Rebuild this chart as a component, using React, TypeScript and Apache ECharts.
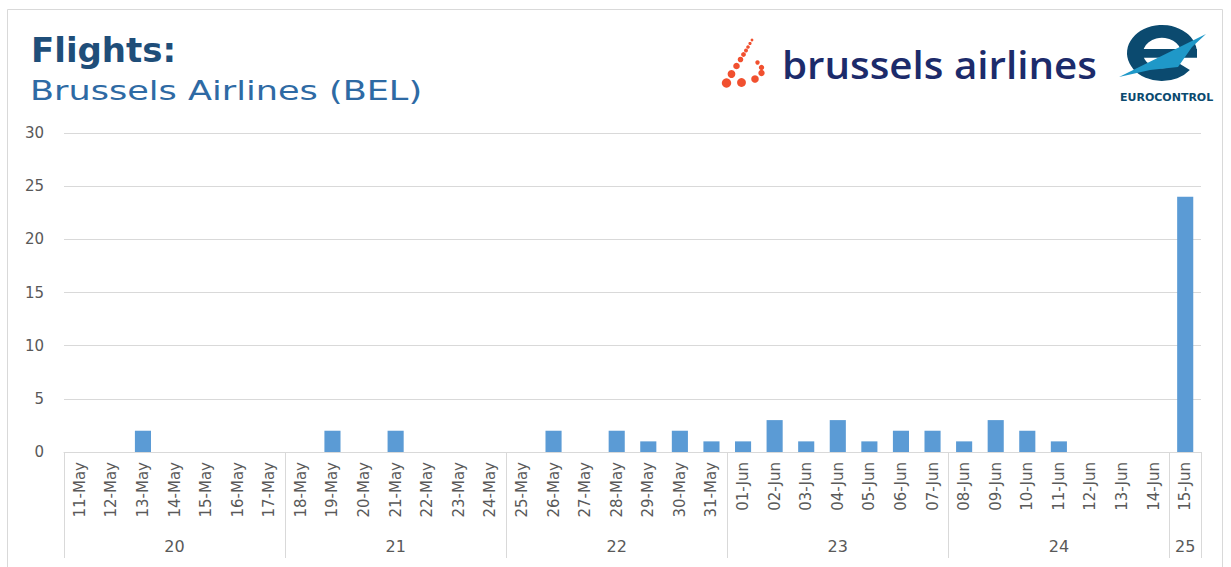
import React, { useEffect, useRef } from "react";
import * as echarts from "echarts";

const dates = [
  "11-May", "12-May", "13-May", "14-May", "15-May", "16-May", "17-May",
  "18-May", "19-May", "20-May", "21-May", "22-May", "23-May", "24-May",
  "25-May", "26-May", "27-May", "28-May", "29-May", "30-May", "31-May",
  "01-Jun", "02-Jun", "03-Jun", "04-Jun", "05-Jun", "06-Jun", "07-Jun",
  "08-Jun", "09-Jun", "10-Jun", "11-Jun", "12-Jun", "13-Jun", "14-Jun",
  "15-Jun",
];
const weeks = [
  "20", "20", "20", "20", "20", "20", "20",
  "21", "21", "21", "21", "21", "21", "21",
  "22", "22", "22", "22", "22", "22", "22",
  "23", "23", "23", "23", "23", "23", "23",
  "24", "24", "24", "24", "24", "24", "24",
  "25",
];
const flights = [
  0, 0, 2, 0, 0, 0, 0,
  0, 2, 0, 2, 0, 0, 0,
  0, 2, 0, 2, 1, 2, 1,
  1, 3, 1, 3, 1, 2, 2,
  1, 3, 2, 1, 0, 0, 0,
  24,
];
const yTicks = { min: 0, max: 30, interval: 5 };
const titleText = "Flights:";
const subtitleText = "Brussels Airlines (BEL)";

// group starts and middles derived from weeks
const groupStarts: number[] = [];
weeks.forEach((w, i) => {
  if (i === 0 || weeks[i - 1] !== w) groupStarts.push(i);
});
const groupMiddles: number[] = groupStarts.map((s, gi) => {
  const end = gi + 1 < groupStarts.length ? groupStarts[gi + 1] : weeks.length;
  return s + Math.floor((end - s - 1) / 2);
});

const dots: [number, number, number][] = [
  [752, 40, 1.4], [750, 43.5, 1.6], [748, 47, 1.8], [746, 50.5, 2.0],
  [743.5, 54.5, 2.4], [740.5, 59.5, 2.8], [736.5, 66, 3.3], [731.5, 74, 3.9],
  [726.5, 83, 4.7], [741.5, 82.5, 4.4], [755, 79, 3.8], [761.5, 73, 3.2],
  [761.5, 67.5, 2.7], [757.5, 62.5, 2.2],
];

export default function App() {
  const ref = useRef<HTMLDivElement>(null);
  useEffect(() => {
    if (!ref.current) return;
    const chart = echarts.init(ref.current, null, { renderer: "svg" });
    const gray = "#595959";
    const option: any = {
      animation: false,
      backgroundColor: "#ffffff",
      grid: { left: 64, right: 30, top: 133, bottom: 115, containLabel: false },
      xAxis: [
        {
          type: "category",
          data: dates,
          position: "bottom",
          axisLine: { show: true, lineStyle: { color: "#d9d9d9", width: 1 } },
          axisTick: {
            show: true,
            length: 106,
            interval: (i: number) => groupStarts.includes(i),
            lineStyle: { color: "#d9d9d9" },
          },
          axisLabel: {
            rotate: 90,
            interval: 0,
            margin: 10,
            color: gray,
            fontSize: 15,
            fontFamily: "DejaVu Sans",
          },
          splitLine: { show: false },
        },
        {
          type: "category",
          data: weeks,
          position: "bottom",
          offset: 80,
          axisLine: { show: false },
          axisTick: { show: false },
          axisLabel: {
            interval: (i: number) => groupMiddles.includes(i),
            margin: 6,
            color: gray,
            fontSize: 16,
            fontFamily: "DejaVu Sans",
          },
          splitLine: { show: false },
        },
      ],
      yAxis: {
        type: "value",
        min: yTicks.min,
        max: yTicks.max,
        interval: yTicks.interval,
        axisLine: { show: false },
        axisTick: { show: false },
        axisLabel: {
          color: gray,
          fontSize: 15,
          fontFamily: "DejaVu Sans",
          margin: 20,
        },
        splitLine: { lineStyle: { color: "#d9d9d9", width: 1 } },
      },
      series: [
        {
          type: "bar",
          data: flights,
          xAxisIndex: 0,
          barWidth: "51%",
          itemStyle: { color: "#5b9bd5" },
        },
      ],
      graphic: [
        {
          type: "rect",
          shape: { x: 7.5, y: 9.5, width: 1215, height: 620 },
          style: { fill: "none", stroke: "#d9d9d9", lineWidth: 1 },
          silent: true,
        },
        {
          type: "text",
          x: 31,
          y: 33,
          style: {
            text: titleText,
            fill: "#1f4e79",
            font: "bold 34px 'DejaVu Sans'",
          },
        },
        {
          type: "text",
          x: 30,
          y: 77,
          scaleX: 1.3,
          style: {
            text: subtitleText,
            fill: "#2e6aa4",
            font: "27px 'DejaVu Sans'",
          },
        },
        ...dots.map(([x, y, r]) => ({
          type: "circle",
          shape: { cx: x, cy: y, r },
          style: { fill: "#f1502f" },
          silent: true,
        })),
        {
          type: "text",
          x: 782,
          y: 46,
          scaleX: 1.09,
          style: {
            text: "brussels airlines",
            fill: "#1c2b6b",
            font: "600 37px 'Open Sans'",
          },
        },
        {
          type: "group",
          x: 1162,
          y: 53,
          scaleY: 0.8,
          children: [
            {
              type: "sector",
              shape: { cx: 0, cy: 0, r: 35, r0: 19, startAngle: 0.65, endAngle: Math.PI * 2 },
              style: { fill: "#0b4a6f" },
            },
            {
              type: "rect",
              shape: { x: -20, y: -5, width: 55, height: 11 },
              style: { fill: "#0b4a6f" },
            },
          ],
        },
        {
          type: "polygon",
          shape: {
            points: [
              [1119, 77], [1206, 34], [1192, 47], [1178, 67], [1150, 70],
            ],
          },
          style: { fill: "#1f98c8" },
        },
        {
          type: "text",
          left: 1120,
          top: 92,
          style: {
            text: "EUROCONTROL",
            fill: "#0b4a6f",
            font: "bold 11px 'DejaVu Sans'",
          },
        },
      ],
    };
    chart.setOption(option);
    return () => chart.dispose();
  }, []);
  return (
    <div
      ref={ref}
      style={{ position: "fixed", left: 0, top: 0, width: 1231, height: 567 }}
    />
  );
}
